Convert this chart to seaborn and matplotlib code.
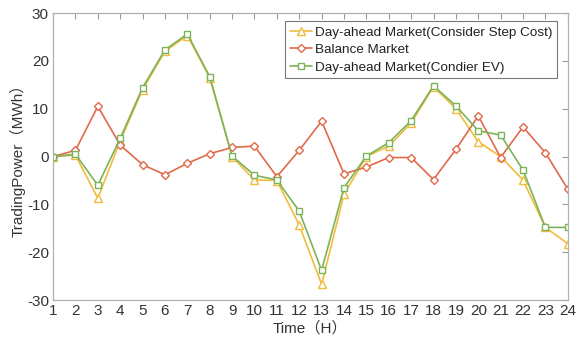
import matplotlib
matplotlib.use("Agg")
import matplotlib.pyplot as plt
import seaborn as sns
import pandas as pd

hours = list(range(1, 25))
step_cost = [0, 0.3, -8.7, 3.3, 14.0, 22.0, 25.3, 16.5, 0.0, -4.9, -5.0, -14.3,
             -26.7, -7.9, 0.0, 2.2, 7.0, 14.6, 10.0, 3.1, 0.0, -4.9, -14.8, -18.2]
balance = [0, 1.3, 10.5, 2.4, -1.7, -3.8, -1.4, 0.6, 1.9, 2.2, -4.2, 1.3,
           7.4, -3.6, -2.2, -0.2, -0.2, -4.8, 1.5, 8.5, -0.2, 6.2, 0.8, -6.8]
consider_ev = [0, 0.5, -6.0, 3.8, 14.4, 22.3, 25.6, 16.7, 0.1, -3.9, -4.9, -11.4,
               -23.8, -6.5, 0.1, 2.9, 7.5, 14.8, 10.6, 5.4, 4.5, -2.8, -14.8, -14.8]

labels = ["Day-ahead Market(Consider Step Cost)", "Balance Market",
          "Day-ahead Market(Condier EV)"]
colors = ["#F2BC3C", "#E06A4A", "#7DB358"]
markers = ["^", "D", "s"]
msizes = [5.5, 4.5, 4.5]

df = pd.DataFrame({
    "Time": hours * 3,
    "Power": step_cost + balance + consider_ev,
    "Series": [labels[0]] * 24 + [labels[1]] * 24 + [labels[2]] * 24,
})

sns.set_style("white")
plt.rcParams["font.family"] = ["Liberation Sans", "Noto Sans CJK SC"]
plt.rcParams["axes.unicode_minus"] = False

fig = plt.figure(figsize=(5.77, 3.43), dpi=100)
ax = fig.add_axes([0.092, 0.125, 0.892, 0.837])

for lab, col, mk, ms in zip(labels, colors, markers, msizes):
    sns.lineplot(data=df[df["Series"] == lab], x="Time", y="Power", ax=ax,
                 color=col, marker=mk, markersize=ms, markerfacecolor="white",
                 markeredgecolor=col, markeredgewidth=1.0, linewidth=1.2,
                 label=lab)

ax.set_xlim(1, 24)
ax.set_ylim(-30, 30)
ax.set_xticks(hours)
ax.set_yticks(range(-30, 31, 10))
ax.tick_params(direction="in", length=4, width=0.8, color="#9a9a9a",
               labelsize=11, labelcolor="#333333", top=True, right=True,
               labeltop=False, labelright=False, pad=3)
for s in ax.spines.values():
    s.set_color("#b0b0b0")
    s.set_linewidth(0.9)

ax.set_xlabel("Time（H）", fontsize=11, color="#333333", labelpad=2)
ax.set_ylabel("TradingPower（MWh）", fontsize=11, color="#333333", labelpad=1)

leg = ax.legend(loc="upper right", bbox_to_anchor=(0.985, 0.98), fontsize=9.7,
                frameon=True, fancybox=False, handlelength=1.7,
                handletextpad=0.2, borderpad=0.35, labelspacing=0.38,
                borderaxespad=0.2)
leg.get_frame().set_edgecolor("#555555")
leg.get_frame().set_linewidth(0.8)
for t in leg.get_texts():
    t.set_color("#222222")

fig.savefig("out.png", dpi=100)
